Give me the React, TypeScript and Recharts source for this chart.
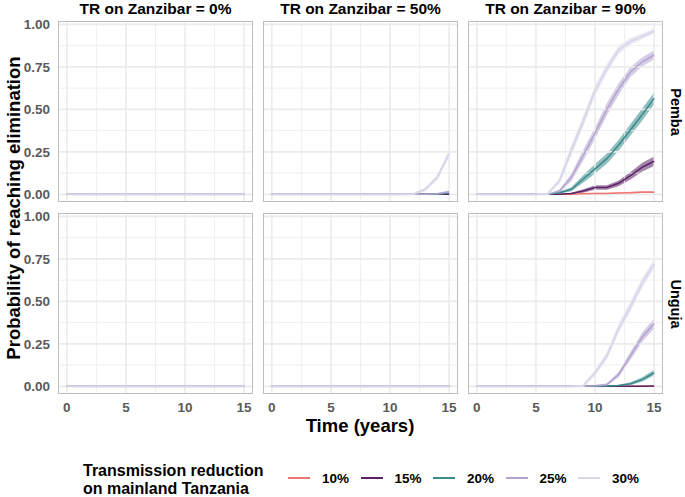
import { Area, ComposedChart, Line, ReferenceLine, XAxis, YAxis } from "recharts";

// time axis (years) and groups
const years = [0, 1, 2, 3, 4, 5, 6, 7, 8, 9, 10, 11, 12, 13, 14, 15];
const groups = ["10%", "15%", "20%", "25%", "30%"];
const groupColors = ["#F07676", "#5B2366", "#3A8B8C", "#B3A4CF", "#DCD8EB"];
const colLabels = ["TR on Zanzibar = 0%", "TR on Zanzibar = 50%", "TR on Zanzibar = 90%"];
const rowLabels = ["Pemba", "Unguja"];
const xTicks = [0, 5, 10, 15];
const xMinor = [2.5, 7.5, 12.5];
const yTicks = [0, 0.25, 0.5, 0.75, 1];
const yMinor = [0.125, 0.375, 0.625, 0.875];

const zero16 = [0, 0, 0, 0, 0, 0, 0, 0, 0, 0, 0, 0, 0, 0, 0, 0];

// Pemba, TR on Zanzibar = 50%
const pemba50_m20 = [0, 0, 0, 0, 0, 0, 0, 0, 0, 0, 0, 0, 0, 0, 0, 0.008];
const pemba50_lo20 = [0, 0, 0, 0, 0, 0, 0, 0, 0, 0, 0, 0, 0, 0, 0, 0.003];
const pemba50_hi20 = [0, 0, 0, 0, 0, 0, 0, 0, 0, 0, 0, 0, 0, 0, 0, 0.013];
const pemba50_m25 = [0, 0, 0, 0, 0, 0, 0, 0, 0, 0, 0, 0, 0, 0, 0.003, 0.015];
const pemba50_lo25 = [0, 0, 0, 0, 0, 0, 0, 0, 0, 0, 0, 0, 0, 0, 0, 0.008];
const pemba50_hi25 = [0, 0, 0, 0, 0, 0, 0, 0, 0, 0, 0, 0, 0, 0, 0.008, 0.022];
const pemba50_m30 = [0, 0, 0, 0, 0, 0, 0, 0, 0, 0, 0, 0, 0.002, 0.03, 0.1, 0.24];
const pemba50_lo30 = [0, 0, 0, 0, 0, 0, 0, 0, 0, 0, 0, 0, 0, 0.02, 0.084, 0.218];
const pemba50_hi30 = [0, 0, 0, 0, 0, 0, 0, 0, 0, 0, 0, 0, 0.006, 0.04, 0.116, 0.262];

// Pemba, TR on Zanzibar = 90%
const pemba90_m10 = [0, 0, 0, 0, 0, 0, 0, 0, 0.001, 0.003, 0.005, 0.005, 0.008, 0.01, 0.013, 0.013];
const pemba90_lo10 = [0, 0, 0, 0, 0, 0, 0, 0, 0, 0.001, 0.002, 0.002, 0.004, 0.006, 0.008, 0.008];
const pemba90_hi10 = [0, 0, 0, 0, 0, 0, 0, 0, 0.003, 0.006, 0.009, 0.009, 0.013, 0.015, 0.019, 0.019];
const pemba90_m15 = [0, 0, 0, 0, 0, 0, 0, 0, 0.005, 0.02, 0.04, 0.04, 0.065, 0.11, 0.16, 0.195];
const pemba90_lo15 = [0, 0, 0, 0, 0, 0, 0, 0, 0, 0.01, 0.027, 0.027, 0.048, 0.088, 0.134, 0.167];
const pemba90_hi15 = [0, 0, 0, 0, 0, 0, 0, 0, 0.01, 0.03, 0.053, 0.053, 0.082, 0.132, 0.186, 0.223];
const pemba90_m20 = [0, 0, 0, 0, 0, 0, 0, 0.01, 0.03, 0.09, 0.15, 0.21, 0.29, 0.38, 0.47, 0.565];
const pemba90_lo20 = [0, 0, 0, 0, 0, 0, 0, 0.003, 0.018, 0.068, 0.122, 0.18, 0.258, 0.346, 0.434, 0.53];
const pemba90_hi20 = [0, 0, 0, 0, 0, 0, 0, 0.017, 0.042, 0.112, 0.178, 0.24, 0.322, 0.414, 0.506, 0.6];
const pemba90_m25 = [0, 0, 0, 0, 0, 0, 0, 0.02, 0.1, 0.23, 0.36, 0.5, 0.62, 0.72, 0.78, 0.82];
const pemba90_lo25 = [0, 0, 0, 0, 0, 0, 0, 0.01, 0.078, 0.198, 0.326, 0.464, 0.586, 0.69, 0.754, 0.794];
const pemba90_hi25 = [0, 0, 0, 0, 0, 0, 0, 0.03, 0.122, 0.262, 0.394, 0.536, 0.654, 0.75, 0.806, 0.846];
const pemba90_m30 = [0, 0, 0, 0, 0, 0, 0.003, 0.08, 0.26, 0.43, 0.61, 0.74, 0.85, 0.9, 0.93, 0.96];
const pemba90_lo30 = [0, 0, 0, 0, 0, 0, 0, 0.062, 0.228, 0.398, 0.578, 0.712, 0.826, 0.88, 0.912, 0.946];
const pemba90_hi30 = [0, 0, 0, 0, 0, 0, 0.009, 0.098, 0.292, 0.462, 0.642, 0.768, 0.874, 0.92, 0.948, 0.974];

// Unguja, TR on Zanzibar = 90%
const unguja90_m15 = [0, 0, 0, 0, 0, 0, 0, 0, 0, 0, 0, 0, 0, 0, 0, 0.002];
const unguja90_m20 = [0, 0, 0, 0, 0, 0, 0, 0, 0, 0, 0, 0.002, 0.005, 0.015, 0.04, 0.08];
const unguja90_lo20 = [0, 0, 0, 0, 0, 0, 0, 0, 0, 0, 0, 0, 0.001, 0.007, 0.028, 0.064];
const unguja90_hi20 = [0, 0, 0, 0, 0, 0, 0, 0, 0, 0, 0, 0.005, 0.01, 0.024, 0.053, 0.097];
const unguja90_m25 = [0, 0, 0, 0, 0, 0, 0, 0, 0, 0, 0.003, 0.01, 0.07, 0.18, 0.29, 0.37];
const unguja90_lo25 = [0, 0, 0, 0, 0, 0, 0, 0, 0, 0, 0, 0.003, 0.054, 0.156, 0.262, 0.34];
const unguja90_hi25 = [0, 0, 0, 0, 0, 0, 0, 0, 0, 0, 0.008, 0.018, 0.086, 0.204, 0.318, 0.4];
const unguja90_m30 = [0, 0, 0, 0, 0, 0, 0, 0, 0, 0.003, 0.08, 0.18, 0.34, 0.47, 0.61, 0.72];
const unguja90_lo30 = [0, 0, 0, 0, 0, 0, 0, 0, 0, 0, 0.064, 0.156, 0.312, 0.44, 0.58, 0.692];
const unguja90_hi30 = [0, 0, 0, 0, 0, 0, 0, 0, 0, 0.008, 0.096, 0.204, 0.368, 0.5, 0.64, 0.748];

type Band = [number[], number[], number[]]; // mean, lower, upper
const flat: Band = [zero16, zero16, zero16];

// panels[row][col] -> one band per group (10%..30%)
const panels: Band[][][] = [
  [
    [flat, flat, flat, flat, flat],
    [flat, flat, [pemba50_m20, pemba50_lo20, pemba50_hi20], [pemba50_m25, pemba50_lo25, pemba50_hi25], [pemba50_m30, pemba50_lo30, pemba50_hi30]],
    [
      [pemba90_m10, pemba90_lo10, pemba90_hi10],
      [pemba90_m15, pemba90_lo15, pemba90_hi15],
      [pemba90_m20, pemba90_lo20, pemba90_hi20],
      [pemba90_m25, pemba90_lo25, pemba90_hi25],
      [pemba90_m30, pemba90_lo30, pemba90_hi30],
    ],
  ],
  [
    [flat, flat, flat, flat, flat],
    [flat, flat, flat, flat, flat],
    [
      flat,
      [unguja90_m15, unguja90_m15, unguja90_m15],
      [unguja90_m20, unguja90_lo20, unguja90_hi20],
      [unguja90_m25, unguja90_lo25, unguja90_hi25],
      [unguja90_m30, unguja90_lo30, unguja90_hi30],
    ],
  ],
];

const FONT = '"Liberation Sans", Arial, sans-serif';
const PANEL_W = 195;
const PANEL_H = 181;
const colLeft = [58, 263, 468];
const rowTop = [21, 213];
const Y_AXIS_W = 40;
const X_AXIS_H = 26;
const PAD = 10; // room for tick text above/below the plot area
const gridColor = "#EBEBEB";

function buildRows(bands: Band[]) {
  return years.map((t, i) => {
    const row: Record<string, any> = { t };
    bands.forEach(([m, lo, hi], g) => {
      row[`m${g}`] = m[i];
      row[`r${g}`] = [lo[i], hi[i]];
    });
    return row;
  });
}

function Panel({ r, c }: { r: number; c: number }) {
  const showY = c === 0;
  const showX = r === 1;
  const data = buildRows(panels[r][c]);
  const w = PANEL_W + (showY ? Y_AXIS_W : 0);
  const h = PANEL_H + PAD + (showX ? X_AXIS_H : PAD);
  const tickStyle = { fontSize: 13.5, fontWeight: 700, fill: "#5A5A5A", fontFamily: FONT };
  return (
    <>
      <div style={{ position: "absolute", left: colLeft[c] - (showY ? Y_AXIS_W : 0), top: rowTop[r] - PAD }}>
        <ComposedChart
          width={w}
          height={h}
          data={data}
          margin={{ top: PAD, right: 0, bottom: showX ? 0 : PAD, left: 0 }}
        >
          <XAxis
            type="number"
            dataKey="t"
            domain={[-0.75, 15.75]}
            ticks={xTicks}
            interval={0}
            hide={!showX}
            height={X_AXIS_H}
            tickLine={false}
            axisLine={false}
            tickSize={0}
            tickMargin={8}
            tick={tickStyle}
            allowDataOverflow
          />
          <YAxis
            type="number"
            domain={[-0.045, 1.02]}
            ticks={yTicks}
            interval={0}
            hide={!showY}
            width={Y_AXIS_W}
            tickLine={false}
            axisLine={false}
            tickSize={0}
            tickMargin={8}
            tick={tickStyle}
            tickFormatter={(v: number) => v.toFixed(2)}
            allowDataOverflow
          />
          {yMinor.map((v) => (
            <ReferenceLine key={`ym${v}`} y={v} stroke={gridColor} strokeWidth={0.8} />
          ))}
          {xMinor.map((v) => (
            <ReferenceLine key={`xm${v}`} x={v} stroke={gridColor} strokeWidth={0.8} />
          ))}
          {yTicks.map((v) => (
            <ReferenceLine key={`y${v}`} y={v} stroke={gridColor} strokeWidth={1.6} />
          ))}
          {xTicks.map((v) => (
            <ReferenceLine key={`x${v}`} x={v} stroke={gridColor} strokeWidth={1.6} />
          ))}
          {groups.map((g, i) => (
            <Area
              key={`a${g}`}
              dataKey={`r${i}`}
              type="linear"
              stroke="none"
              fill={groupColors[i]}
              fillOpacity={0.55}
              isAnimationActive={false}
            />
          ))}
          {groups.map((g, i) => (
            <Line
              key={`l${g}`}
              dataKey={`m${i}`}
              type="linear"
              stroke={groupColors[i]}
              strokeWidth={i === 4 ? 2.2 : 1.5}
              dot={false}
              isAnimationActive={false}
            />
          ))}
        </ComposedChart>
      </div>
      <div
        style={{
          position: "absolute",
          left: colLeft[c],
          top: rowTop[r],
          width: PANEL_W,
          height: PANEL_H,
          border: "1.5px solid #BEBEBE",
          boxSizing: "border-box",
          pointerEvents: "none",
        }}
      />
    </>
  );
}

export default function App() {
  return (
    <div
      style={{
        position: "absolute",
        left: 0,
        top: 0,
        width: 685,
        height: 497,
        background: "#fff",
        fontFamily: FONT,
        overflow: "hidden",
      }}
    >
      {colLabels.map((lab, c) => (
        <div
          key={lab}
          style={{
            position: "absolute",
            left: colLeft[c] - 20,
            width: PANEL_W + 40,
            top: 0,
            textAlign: "center",
            fontSize: 15.5,
            fontWeight: 700,
            lineHeight: "17px",
          }}
        >
          {lab}
        </div>
      ))}
      {rowLabels.map((lab, r) => (
        <div
          key={lab}
          style={{
            position: "absolute",
            left: 676 - 60,
            top: rowTop[r] + PANEL_H / 2 - 8,
            width: 120,
            textAlign: "center",
            fontSize: 14.5,
            fontWeight: 700,
            lineHeight: "16px",
            transform: "rotate(90deg)",
            transformOrigin: "60px 8px",
          }}
        >
          {lab}
        </div>
      ))}
      <div
        style={{
          position: "absolute",
          left: 14 - 180,
          top: 208 - 11,
          width: 360,
          textAlign: "center",
          fontSize: 18.5,
          fontWeight: 700,
          lineHeight: "22px",
          transform: "rotate(-90deg)",
          transformOrigin: "180px 11px",
        }}
      >
        Probability of reaching elimination
      </div>
      <div
        style={{
          position: "absolute",
          left: 260,
          width: 200,
          top: 415,
          textAlign: "center",
          fontSize: 18.5,
          fontWeight: 700,
          lineHeight: "22px",
        }}
      >
        Time (years)
      </div>
      {panels.map((row, r) => row.map((_, c) => <Panel key={`${r}-${c}`} r={r} c={c} />))}
      <div style={{ position: "absolute", left: 83, top: 462, fontSize: 16, fontWeight: 700, lineHeight: "17px" }}>
        Transmission reduction
      </div>
      <div style={{ position: "absolute", left: 83, top: 480, fontSize: 16, fontWeight: 700, lineHeight: "17px" }}>
        on mainland Tanzania
      </div>
      {groups.map((g, i) => (
        <div
          key={g}
          style={{ position: "absolute", left: 288 + i * 72.5, top: 469, height: 18, display: "flex", alignItems: "center" }}
        >
          <div style={{ width: 22, height: 2, background: groupColors[i] }} />
          <span style={{ marginLeft: 12, fontSize: 13.5, fontWeight: 700 }}>{g}</span>
        </div>
      ))}
    </div>
  );
}
